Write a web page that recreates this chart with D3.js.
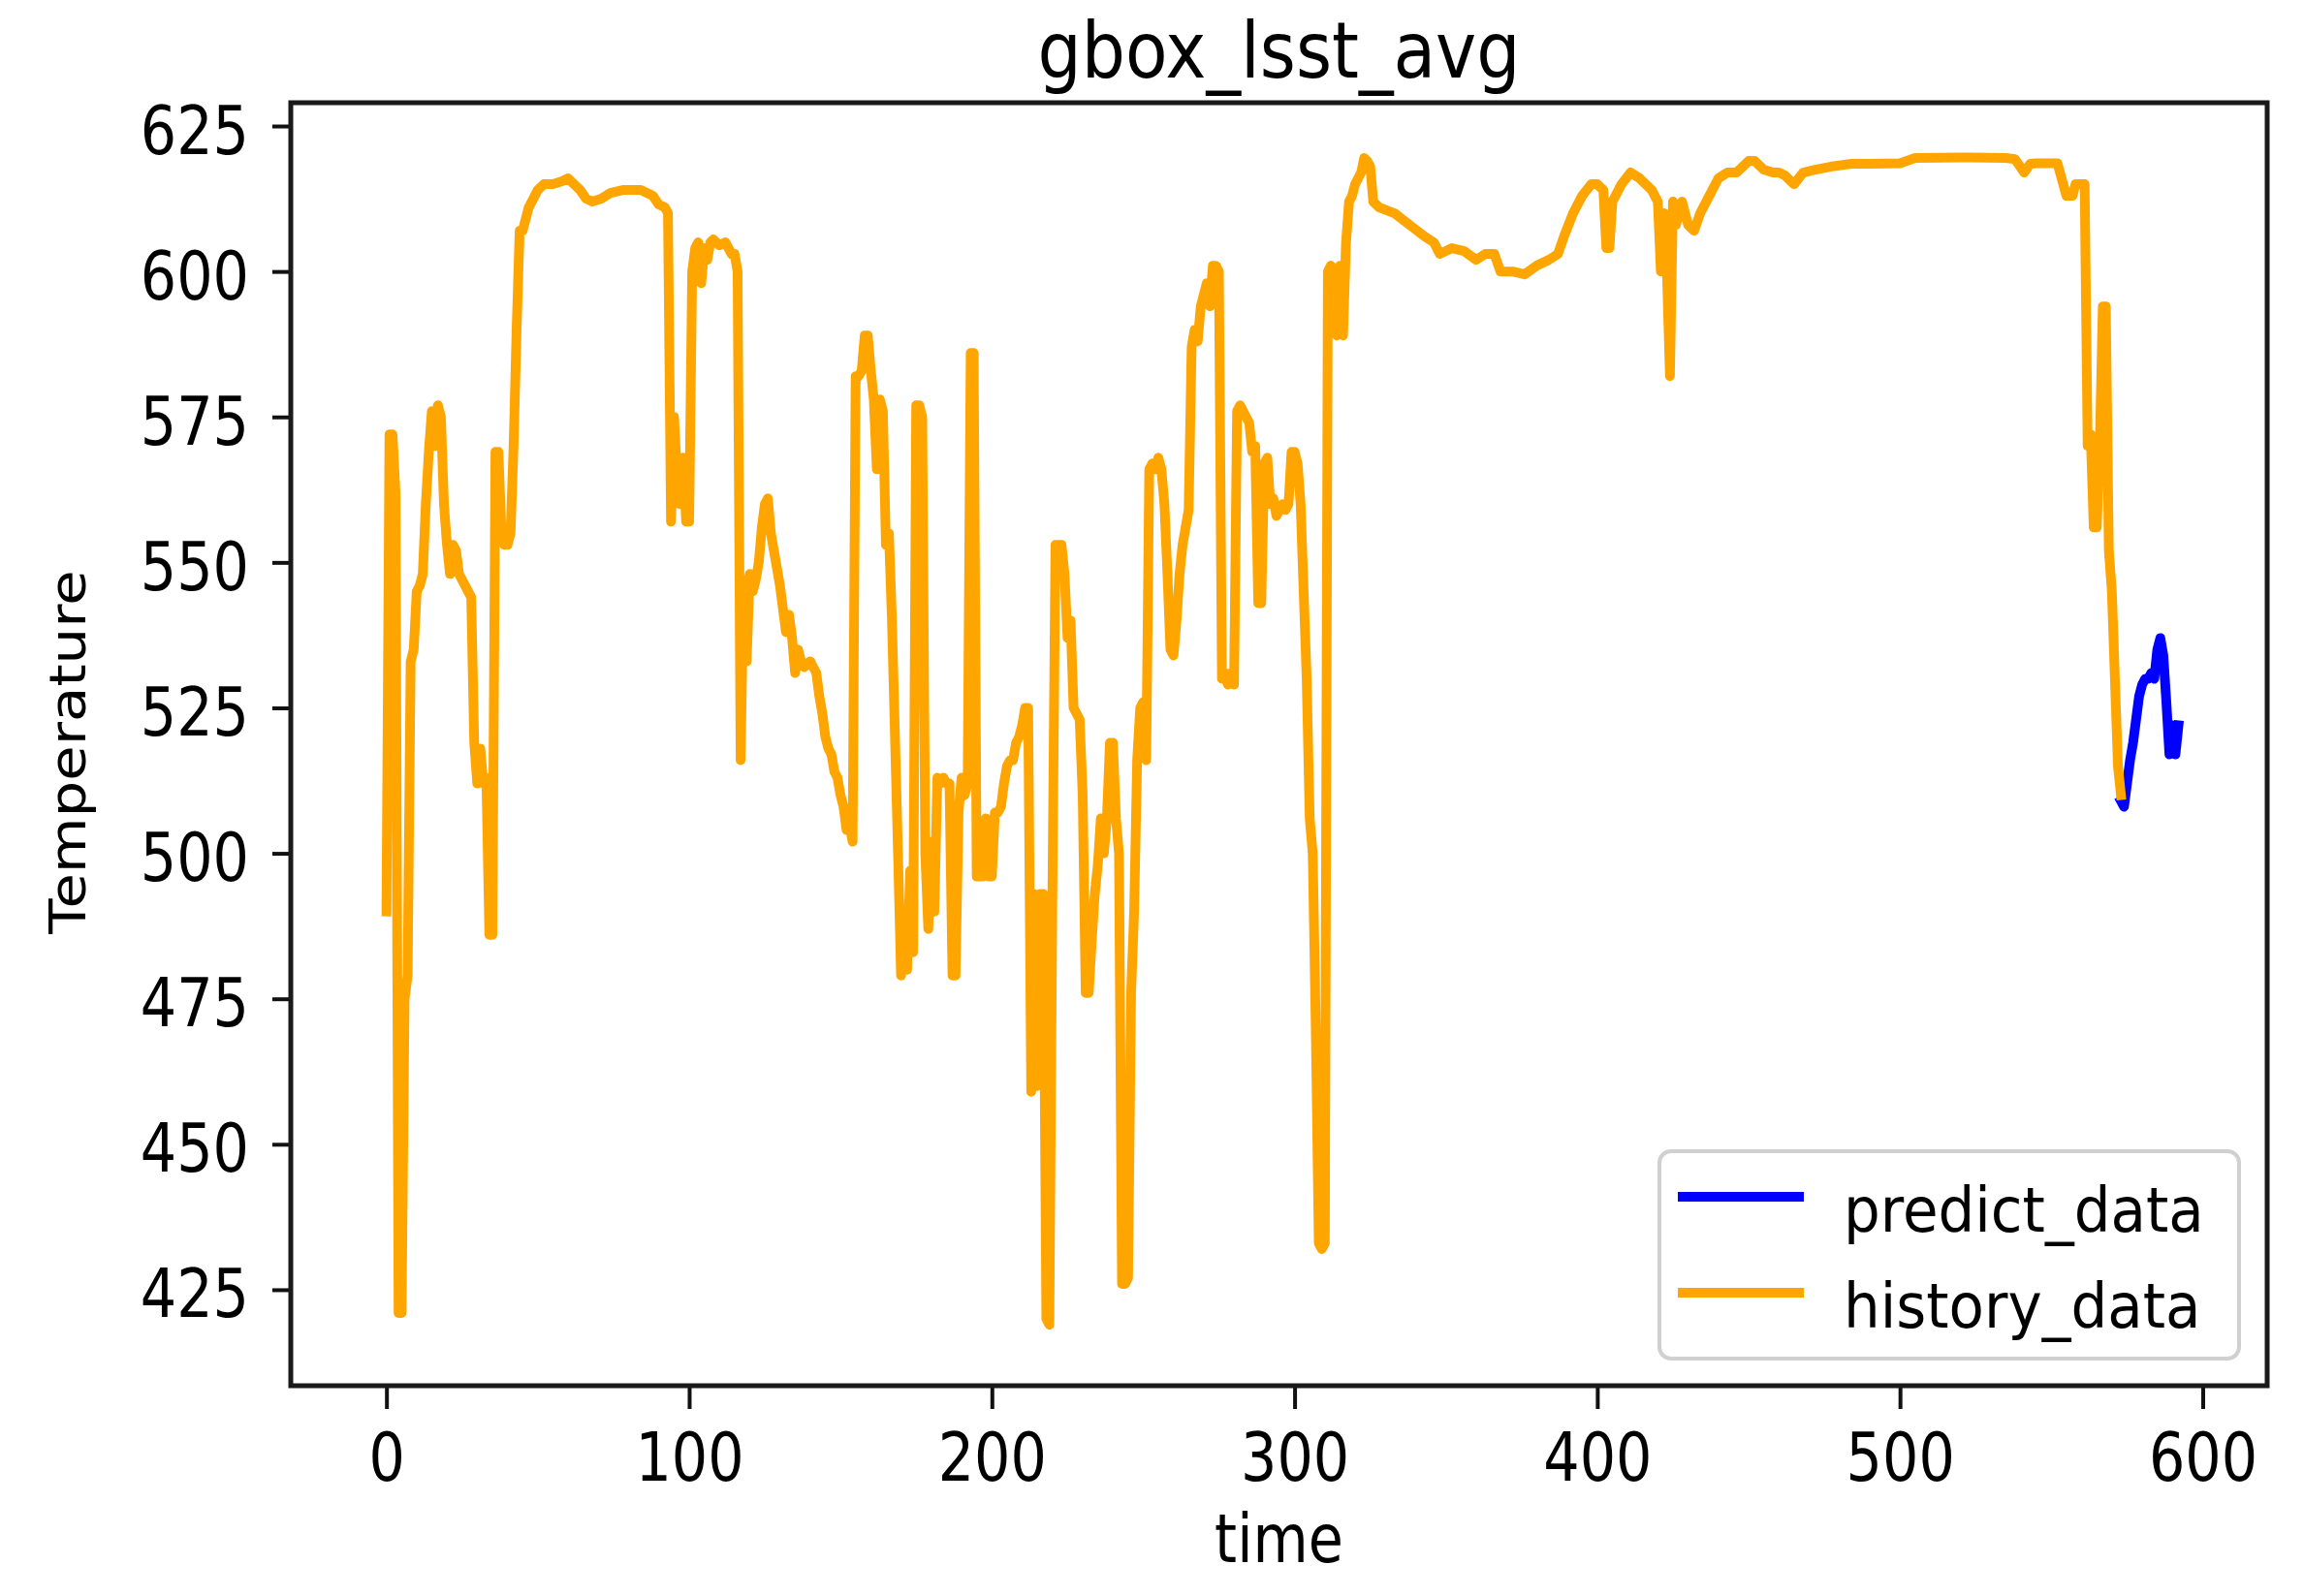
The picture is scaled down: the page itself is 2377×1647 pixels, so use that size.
<!DOCTYPE html>
<html><head><meta charset="utf-8">
<script src="https://cdn.jsdelivr.net/npm/d3@7/dist/d3.min.js"></script>
<style>
html,body{margin:0;padding:0;background:#fff;}
svg{display:block;}
text{font-family:"DejaVu Sans",sans-serif;fill:#000;}
</style></head><body>
<svg id="chart" width="2377" height="1647"></svg>
<script>
// ---- data ----
const titleText = "gbox_lsst_avg";
const xLabelText = "time";
const yLabelText = "Temperature";
const seriesNames = ["predict_data", "history_data"];
const xTickValues = [0, 100, 200, 300, 400, 500, 600];
const yTickValues = [425, 450, 475, 500, 525, 550, 575, 600, 625];

const historyTime = [
  0,1,2,3,4,5,6,7,8,9,10,11,12,13,14,15,16,17,18,19,20,21,22,23,24,25,26,27,28,29,30,31,32,33,34,35,36,37,38,39,40,41,42,43,44,45,46,47,48,49,50,
  52,55,58,60,62,64,66,68,71,74,78,84,88,90,92,93,
  94,95,96,97,98,99,100,101,102,103,104,105,106,107,108,110,112,114,115,116,117,118,119,120,121,122,123,124,125,126,127,128,129,130,
  131,132,133,134,135,136,137,138,140,142,143,144,145,146,147,148,149,150,151,152,153,154,155,156,157,158,159,160,
  161,162,163,164,165,166,167,168,169,170,171,172,173,174,175,176,177,178,179,180,181,182,183,184,185,186,187,188,189,190,
  191,192,193,194,195,196,197,198,199,200,201,202,203,204,205,206,207,208,209,210,211,212,213,214,215,216,217,218,219,220,
  221,222,223,224,225,226,227,228,229,230,231,232,233,234,235,236,237,238,239,240,241,242,243,244,245,246,247,248,249,250,
  251,252,253,254,255,256,257,258,259,260,261,262,263,264,265,266,267,268,269,270,271,272,273,274,275,276,277,278,279,280,
  281,282,283,284,285,286,287,288,289,290,291,292,293,294,295,296,297,298,299,300,301,302,303,304,305,306,307,308,309,310,
  311,312,313,314,315,316,317,318,319,320,321,322,323,324,325,326,328,333,338,343,346,348,352,356,360,363,366,368,372,376,
  380,384,387,389,392,395,398,400,402,403,404,405,408,411,414,418,420,421,422,423,424,425,426,428,430,432,434,437,440,443,
  446,450,452,455,458,460,462,465,468,472,477,484,490,500,505,520,535,538,541,543,545,552,555,557,558,561,562,563,564,565,
  566,567,568,569,570,571,572,573
];
const historyValue = [
  490,572,572,562,421,421,475,479,533,535,545,546,548,560,569,576,570,577,575,560,553,548,553,552,548,547,546,545,544,519,512,518,512,513,486,486,569,569,555,553,553,555,570,590,607,607,609,611,612,613,614,
  615,615,615.5,616,615,614,612.5,612,612.5,613.5,614,614,613,611.5,611,610,
  557,575,565,560,568,557,557,600,604,605,598,604,602,605,605.5,604.5,605,603,603,600,516,547,533,548,545,547,550,556,560,561,555,552,549,546,
  542,538,541,537,531,535,533,532,533,531,527,524,520,518,517,514,513,510,508,504,505,502,582,582,583,589,589,583,
  578,566,578,576,553,555,540,520,500,479,487,480,497,483,577,577,575,500,487,502,490,513,512,513,512,512,479,479,507,513,
  510,512,586,586,496,496,496,506,496,496,507,507,508,512,515,516,516,519,520,522,525,525,459,493,460,493,493,420,419,493,
  553,553,553,548,537,540,525,524,523,510,476,476,485,493,498,506,500,506,519,519,506,500,426,426,427,476,490,516,525,526,
  516,566,567,566,568,566,560,548,535,534,540,548,553,556,559,587,590,588,594,596,598,594,601,601,600,530,531,529,531,529,
  576,577,576,575,574,569,570,543,543,567,568,560,561,558,559,560,559,560,569,569,567,560,545,530,506,500,470,433,432,433,
  600,601,590,589,601,589,605,612,613,615,616,617,619.5,619,618,612,611,610,608,606,605,603,604,603.5,602,603,603,600,600,599.5,
  601,602,603,606,610,613,615,615,614,604,604,612,615,617,616,614,612,600,610,600,582,612,608,612,608,607,610,613,616,617,
  617,619,619,617.5,617,617,616.5,615,617,617.5,618,618.5,618.5,618.6,619.5,619.6,619.5,619.3,617,618.5,618.6,618.6,613,613,615,615,570,572,556,556,
  570,594,594,552,545,530,515,510
];

const predictTime = [573,574,575,576,577,578,579,580,581,582,583,584,585,586,587,588,589,590,591,592];
const predictValue = [509,508,512,516,519,523,527,529,530,530,531,530,535,537,534,526,517,522,517,522];

// ---- layout ----
const W = 2377, H = 1647;
const plot = {left: 300, right: 2339, top: 106, bottom: 1430};
const xDomain = [-31.6, 621.3];
const yDomain = [408.5, 629];
const colors = {predict: "#0000ff", history: "#ffa500"};
const stretchX = 0.84;

const svg = d3.select("#chart");
svg.append("rect").attr("width", W).attr("height", H).attr("fill", "#fff");

const x = d3.scaleLinear().domain(xDomain).range([plot.left, plot.right]);
const y = d3.scaleLinear().domain(yDomain).range([plot.bottom, plot.top]);

const line = d3.line().x(d => x(d[0])).y(d => y(d[1]));

const histData = historyTime.map((t, i) => [t, historyValue[i]]);
const predData = predictTime.map((t, i) => [t, predictValue[i]]);

svg.append("defs").append("clipPath").attr("id", "clip")
  .append("rect").attr("x", plot.left).attr("y", plot.top)
  .attr("width", plot.right - plot.left).attr("height", plot.bottom - plot.top);

const g = svg.append("g").attr("clip-path", "url(#clip)");
g.append("path").datum(predData).attr("d", line)
  .attr("fill", "none").attr("stroke", colors.predict).attr("stroke-width", 10)
  .attr("stroke-linejoin", "round").attr("stroke-linecap", "square");
g.append("path").datum(histData).attr("d", line)
  .attr("fill", "none").attr("stroke", colors.history).attr("stroke-width", 10)
  .attr("stroke-linejoin", "round").attr("stroke-linecap", "square");

// axes
const xAxis = d3.axisBottom(x).tickValues(xTickValues).tickSizeInner(24).tickSizeOuter(0).tickFormat(d3.format("d"));
const gx = svg.append("g").attr("transform", `translate(0,${plot.bottom})`).call(xAxis);
gx.select(".domain").remove();
gx.selectAll(".tick line").attr("stroke", "#111").attr("stroke-width", 4);
gx.selectAll(".tick text")
  .attr("y", 98).attr("dy", 0)
  .attr("transform", `scale(${stretchX},1)`)
  .style("font-size", "70px").style("font-family", "'DejaVu Sans', sans-serif").attr("fill", "#111");

const yAxis = d3.axisLeft(y).tickValues(yTickValues).tickSizeInner(19).tickSizeOuter(0).tickFormat(d3.format("d"));
const gy = svg.append("g").attr("transform", `translate(${plot.left},0)`).call(yAxis);
gy.select(".domain").remove();
gy.selectAll(".tick line").attr("stroke", "#111").attr("stroke-width", 4);
gy.selectAll(".tick text")
  .attr("x", -(plot.left - 257) / stretchX).attr("y", 28).attr("dy", 0)
  .attr("transform", `scale(${stretchX},1)`)
  .style("font-size", "70px").style("font-family", "'DejaVu Sans', sans-serif").attr("fill", "#111");

// frame
svg.append("rect")
  .attr("x", plot.left).attr("y", plot.top)
  .attr("width", plot.right - plot.left).attr("height", plot.bottom - plot.top)
  .attr("fill", "none").attr("stroke", "#1a1a1a").attr("stroke-width", 5);

// title & labels
svg.append("text").attr("transform", `translate(${(plot.left + plot.right) / 2},80) scale(0.89,1)`)
  .attr("text-anchor", "middle").style("font-size", "80px").attr("fill", "#111").text(titleText);
svg.append("text").attr("transform", `translate(${(plot.left + plot.right) / 2},1612) scale(${stretchX},1)`)
  .attr("text-anchor", "middle").style("font-size", "70px").attr("fill", "#111").text(xLabelText);
svg.append("text").attr("transform", `translate(88,${(plot.top + plot.bottom) / 2 + 8}) rotate(-90) scale(1.14,1)`)
  .attr("text-anchor", "middle").style("font-size", "52px").attr("fill", "#111").text(yLabelText);

// legend
const leg = svg.append("g");
leg.append("rect").attr("x", 1712).attr("y", 1188).attr("width", 598).attr("height", 214)
  .attr("rx", 12).attr("ry", 12)
  .attr("fill", "#fff").attr("fill-opacity", 0.8).attr("stroke", "#d0d0d0").attr("stroke-width", 4);
const legItems = [
  {name: seriesNames[0], color: colors.predict, ly: 1235},
  {name: seriesNames[1], color: colors.history, ly: 1334}
];
legItems.forEach(it => {
  leg.append("line").attr("x1", 1731).attr("x2", 1861).attr("y1", it.ly).attr("y2", it.ly)
    .attr("stroke", it.color).attr("stroke-width", 10);
  leg.append("text").attr("transform", `translate(1902,${it.ly + 36}) scale(0.93,1)`)
    .style("font-size", "64px").attr("fill", "#111").text(it.name);
});
</script>
</body></html>
